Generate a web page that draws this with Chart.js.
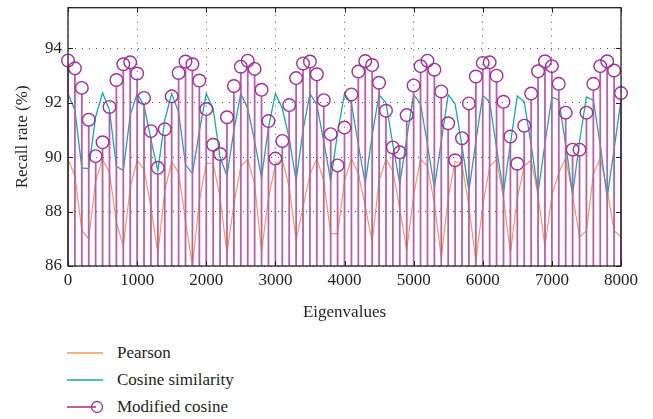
<!DOCTYPE html>
<html><head><meta charset="utf-8">
<script src="https://cdn.jsdelivr.net/npm/chart.js@4/dist/chart.umd.min.js"></script>
<style>
html,body{margin:0;padding:0;background:#fff;}
#wrap{position:relative;width:653px;height:419px;overflow:hidden;}
#c{position:absolute;left:0;top:0;}
.lg{position:absolute;left:66px;height:24px;display:flex;align-items:center;font-family:"Liberation Serif","DejaVu Serif",serif;font-size:17px;color:#231f20;}
.lg svg{margin-right:13px;}
</style></head><body>
<div id="wrap">
<canvas id="c" width="653" height="330"></canvas>
<div id="legend"></div>
</div>
<script>
// x values (eigenvalues)
const eigenvalues = [0,100,200,300,400,500,600,700,800,900,1000,1100,1200,1300,1400,1500,1600,1700,1800,1900,2000,2100,2200,2300,2400,2500,2600,2700,2800,2900,3000,3100,3200,3300,3400,3500,3600,3700,3800,3900,4000,4100,4200,4300,4400,4500,4600,4700,4800,4900,5000,5100,5200,5300,5400,5500,5600,5700,5800,5900,6000,6100,6200,6300,6400,6500,6600,6700,6800,6900,7000,7100,7200,7300,7400,7500,7600,7700,7800,7900,8000];
const pearson = [89.92,89.31,87.31,87.0,89.13,89.92,89.43,87.61,86.73,88.88,89.89,89.55,88.16,86.46,88.76,89.83,89.43,87.67,86.0,88.4,89.76,89.79,88.52,86.46,88.28,89.67,89.92,89.0,86.52,88.5,89.73,89.92,88.9,86.95,88.16,89.37,89.95,89.13,87.19,87.19,89.13,89.95,89.4,88.2,86.88,89.13,89.92,89.5,88.1,86.58,88.6,89.92,89.67,88.3,86.3,88.5,89.85,89.73,88.2,86.15,88.2,89.67,89.92,88.5,86.46,88.5,89.67,89.9,88.6,86.7,88.6,89.43,89.97,88.6,87.07,87.3,89.37,89.97,88.8,87.3,87.07];
const cosineSimilarity = [92.34,91.73,89.61,89.58,91.49,92.37,91.73,89.67,89.51,91.55,92.34,91.9,90.65,89.5,91.37,92.34,91.65,89.73,89.4,90.95,92.34,91.79,90.0,89.31,91.0,92.34,91.79,90.58,89.25,91.1,92.34,91.8,90.7,89.13,91.0,92.34,91.92,90.58,89.13,90.9,92.34,91.97,90.46,89.03,90.8,92.3,92.0,90.46,89.0,90.7,92.3,91.97,90.46,88.88,90.58,92.3,91.97,90.4,88.76,90.58,92.28,92.04,90.34,88.7,90.5,92.25,92.04,90.46,88.7,90.5,92.22,92.1,90.46,88.64,90.58,92.22,92.1,90.46,88.52,90.3,92.1];
const modifiedCosine = [93.56,93.27,92.55,91.38,90.04,90.55,91.85,92.84,93.42,93.49,93.08,92.18,90.96,89.61,91.03,92.24,93.1,93.52,93.42,92.82,91.77,90.46,90.12,91.47,92.62,93.33,93.55,93.25,92.48,91.33,89.95,90.6,91.92,92.91,93.45,93.52,93.05,92.1,90.85,89.7,91.09,92.31,93.15,93.54,93.39,92.74,91.71,90.36,90.18,91.55,92.64,93.35,93.55,93.22,92.42,91.25,89.89,90.7,91.98,92.97,93.47,93.49,93.0,92.04,90.76,89.76,91.16,92.34,93.16,93.53,93.35,92.7,91.64,90.28,90.28,91.64,92.7,93.35,93.53,93.19,92.36];
const xTicks = [0,1000,2000,3000,4000,5000,6000,7000,8000];
const yTicks = [86,88,90,92,94];
const seriesNames = ["Pearson","Cosine similarity","Modified cosine"];

const C_OR = '#f29a55', C_TE = '#19a9a6', C_PU = '#a02f98', C_ST = '#b860ae';
const FONT = '"Liberation Serif","DejaVu Serif",serif';
const pts = arr => eigenvalues.map((x,i)=>({x:x,y:arr[i]}));

// stems for the "Modified cosine" series, drawn from the library's own point positions
const stemPlugin = {
  id:'stems',
  beforeDatasetDraw(chart, args){
    if (args.index !== 0) return;
    const {ctx, chartArea:a} = chart;
    const meta = chart.getDatasetMeta(0);
    const base = chart.scales.y.getPixelForValue(chart.scales.y.min);
    ctx.save();
    ctx.strokeStyle = C_ST; ctx.lineWidth = 1.8;
    ctx.beginPath();
    meta.data.forEach(p=>{ ctx.moveTo(p.x, base); ctx.lineTo(p.x, p.y + 6); });
    ctx.stroke();
    ctx.restore();
  }
};

const framePlugin = {
  id:'frame',
  afterDraw(chart){
    const {ctx, chartArea:a, scales:{x,y}} = chart;
    ctx.save();
    ctx.strokeStyle = '#231f20'; ctx.lineWidth = 1.3;
    ctx.strokeRect(a.left, a.top, a.right-a.left, a.bottom-a.top);
    ctx.lineWidth = 1;
    const L = 5;
    ctx.beginPath();
    xTicks.forEach(v=>{const p=Math.round(x.getPixelForValue(v))+0.5;
      ctx.moveTo(p,a.bottom); ctx.lineTo(p,a.bottom-L);
      ctx.moveTo(p,a.top); ctx.lineTo(p,a.top+L);});
    yTicks.forEach(v=>{const p=Math.round(y.getPixelForValue(v))+0.5;
      ctx.moveTo(a.left,p); ctx.lineTo(a.left+L,p);
      ctx.moveTo(a.right,p); ctx.lineTo(a.right-L,p);});
    ctx.stroke();
    ctx.restore();
  }
};

new Chart(document.getElementById('c'), {
  type:'line',
  data:{datasets:[
    {type:'line', label:seriesNames[2], data:pts(modifiedCosine), showLine:false, pointRadius:6.3, pointBorderWidth:1.4, pointBorderColor:C_PU, pointBackgroundColor:'rgba(0,0,0,0)', order:0, clip:false},
    {type:'line', label:seriesNames[1], data:pts(cosineSimilarity), borderColor:C_TE, borderWidth:1.3, pointRadius:0, tension:0, order:2},
    {type:'line', label:seriesNames[0], data:pts(pearson), borderColor:C_OR, borderWidth:1.2, pointRadius:0, tension:0, order:3}
  ]},
  options:{
    responsive:false, animation:false, devicePixelRatio:1,
    layout:{padding:{left:0,right:32,top:4,bottom:0}},
    plugins:{legend:{display:false}, tooltip:{enabled:false}},
    scales:{
      x:{type:'linear', min:0, max:8000, offset:false,
        afterBuildTicks:s=>{s.ticks = xTicks.map(v=>({value:v}));},
        afterFit:s=>{s.height = 64; s.paddingLeft = 0;},
        ticks:{font:{family:FONT,size:17}, color:'#231f20', padding:4, maxRotation:0, callback:v=>String(v)},
        grid:{color:'#555', lineWidth:1, drawTicks:false},
        border:{display:false, dash:[1,6]},
        title:{display:true, text:'Eigenvalues', font:{family:FONT,size:17}, color:'#231f20', padding:{top:0,bottom:7}}
      },
      y:{type:'linear', min:86, max:95.5,
        afterBuildTicks:s=>{s.ticks = yTicks.map(v=>({value:v}));},
        afterFit:s=>{s.width = 68; s.paddingTop = 0; s.paddingBottom = 0;},
        ticks:{font:{family:FONT,size:17}, color:'#231f20', padding:6, callback:v=>String(v)},
        grid:{color:'#555', lineWidth:1, drawTicks:false},
        border:{display:false, dash:[1,6]},
        title:{display:true, text:'Recall rate (%)', font:{family:FONT,size:17}, color:'#231f20', padding:{top:12,bottom:0}}
      }
    }
  },
  plugins:[stemPlugin, framePlugin]
});

// legend
const lg = document.getElementById('legend');
const items = [
  {name:seriesNames[0], svg:'<svg width="38" height="12"><line x1="1" y1="6" x2="37" y2="6" stroke="'+C_OR+'" stroke-width="1.3"/></svg>', top:341},
  {name:seriesNames[1], svg:'<svg width="38" height="12"><line x1="1" y1="6" x2="37" y2="6" stroke="'+C_TE+'" stroke-width="1.3"/></svg>', top:368},
  {name:seriesNames[2], svg:'<svg width="38" height="14"><line x1="1" y1="7" x2="30" y2="7" stroke="'+C_ST+'" stroke-width="2"/><circle cx="31" cy="7" r="5.5" fill="none" stroke="'+C_PU+'" stroke-width="1.3"/></svg>', top:395}
];
items.forEach(it=>{
  const d=document.createElement('div'); d.className='lg'; d.style.top=it.top+'px';
  d.innerHTML = it.svg + '<span>'+it.name+'</span>';
  lg.appendChild(d);
});
</script>
</body></html>
